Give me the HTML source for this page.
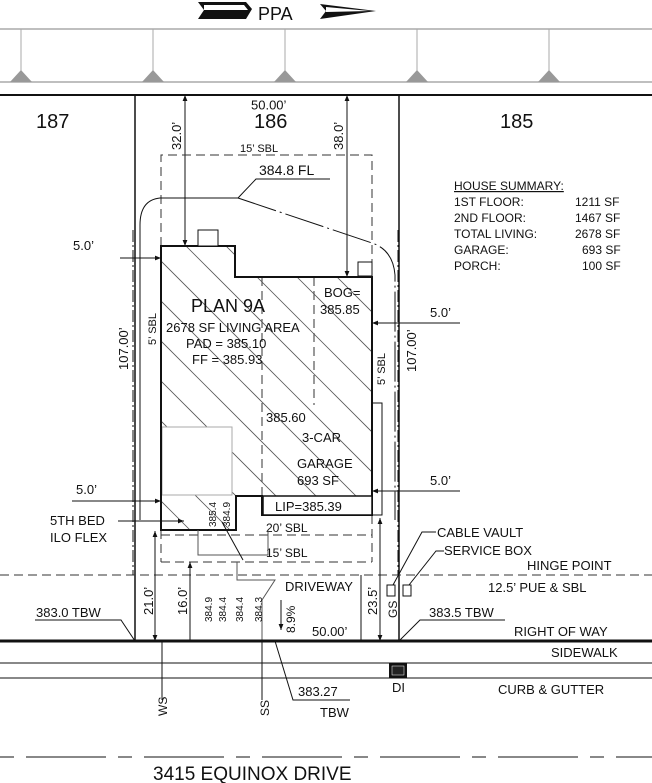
<!DOCTYPE html>
<html><head><meta charset="utf-8"><style>
html,body{margin:0;padding:0;background:#fff;width:652px;height:783px;overflow:hidden}
svg{display:block}
text{font-family:"Liberation Sans",sans-serif;fill:#111}
</style></head><body>
<svg width="652" height="783" viewBox="0 0 652 783" xmlns="http://www.w3.org/2000/svg">
<defs>
<clipPath id="hc"><polygon points="161,246 235,246 235,277 372,277 372,515 262,515 262,496 236,496 236,530 161,530"/></clipPath>
<marker id="ar" viewBox="0 0 10 10" refX="10" refY="5" markerWidth="8" markerHeight="6" orient="auto-start-reverse" markerUnits="userSpaceOnUse"><path d="M0,1 L10,5 L0,9 z" fill="#111"/></marker>
</defs>
<!-- north arrow -->
<polygon points="198,2 246,2 252,9 246,19 198,19 204,10" fill="#111"/>
<polygon points="204,5 244,5 248,10 204,10" fill="#fff"/>
<text x="258" y="20" font-size="18" font-weight="normal">PPA</text>
<polygon points="320,4 376,11 320,19 326,11" fill="#111"/>
<polygon points="326,7 370,11 326,12" fill="#fff"/>
<!-- top grey lines -->
<line x1="0" y1="29" x2="652" y2="29" stroke="#aaa" stroke-width="1.5"/>
<line x1="0" y1="82" x2="652" y2="82" stroke="#aaa" stroke-width="1.5"/>
<g stroke="#aaa"><line x1="21" y1="29" x2="21" y2="72"/><line x1="153" y1="29" x2="153" y2="72"/><line x1="285" y1="29" x2="285" y2="72"/><line x1="417" y1="29" x2="417" y2="72"/><line x1="549" y1="29" x2="549" y2="72"/></g>
<g fill="#999"><polygon points="10,82 21,70 32,82"/><polygon points="142,82 153,70 164,82"/><polygon points="274,82 285,70 296,82"/><polygon points="406,82 417,70 428,82"/><polygon points="538,82 549,70 560,82"/></g>
<line x1="0" y1="95" x2="652" y2="95" stroke="#111" stroke-width="2"/>
<!-- lot lines -->
<line x1="135" y1="95" x2="135" y2="641" stroke="#111" stroke-width="1.5"/>
<line x1="399" y1="95" x2="399" y2="641" stroke="#111" stroke-width="1.5"/>
<text x="251" y="100" font-size="13" style="dominant-baseline:hanging">50.00’</text>
<text x="36" y="128" font-size="20">187</text>
<text x="254" y="128" font-size="20">186</text>
<text x="500" y="128" font-size="20">185</text>
<!-- 32.0 / 38.0 dims -->
<line x1="185" y1="246" x2="185" y2="95" stroke="#111" marker-start="url(#ar)" marker-end="url(#ar)"/>
<line x1="347" y1="277" x2="347" y2="95" stroke="#111" marker-start="url(#ar)" marker-end="url(#ar)"/>
<text transform="translate(181,150) rotate(-90)" font-size="13">32.0’</text>
<text transform="translate(343,150) rotate(-90)" font-size="13">38.0’</text>
<!-- SBL dashed -->
<g stroke="#333" stroke-dasharray="9,5" fill="none">
<polyline points="161,246 161,155 372,155 372,277"/>
<line x1="161" y1="530" x2="161" y2="562"/>
<line x1="372" y1="515" x2="372" y2="562"/>
<line x1="161" y1="535" x2="372" y2="535"/>
<line x1="161" y1="562" x2="372" y2="562"/>
<line x1="0" y1="575" x2="652" y2="575"/>
<line x1="262" y1="277" x2="262" y2="515" stroke-width="1"/>
<line x1="314" y1="277" x2="314" y2="405"/>
</g>
<text x="240" y="152" font-size="11">15’ SBL</text>
<!-- house hatch -->
<g clip-path="url(#hc)" stroke="#555" stroke-width="0.8">
<line x1="100" y1="200" x2="500" y2="600"/><line x1="140" y1="200" x2="540" y2="600"/><line x1="180" y1="200" x2="580" y2="600"/><line x1="220" y1="200" x2="620" y2="600"/><line x1="260" y1="200" x2="660" y2="600"/><line x1="300" y1="200" x2="700" y2="600"/><line x1="60" y1="200" x2="460" y2="600"/><line x1="20" y1="200" x2="420" y2="600"/><line x1="-20" y1="200" x2="380" y2="600"/><line x1="-60" y1="200" x2="340" y2="600"/><line x1="-100" y1="200" x2="300" y2="600"/><line x1="-140" y1="200" x2="260" y2="600"/><line x1="-180" y1="200" x2="220" y2="600"/>
</g>
<rect x="162" y="427" width="70" height="68" fill="#fff" stroke="#aaa"/>
<polygon points="161,246 235,246 235,277 372,277 372,515 262,515 262,496 236,496 236,530 161,530" fill="none" stroke="#111" stroke-width="2"/>
<rect x="198" y="230" width="20" height="16" fill="#fff" stroke="#111"/>
<rect x="358" y="262" width="14" height="14" fill="#fff" stroke="#111"/>
<rect x="372" y="403" width="10" height="112" fill="none" stroke="#111"/>
<rect x="263" y="496" width="109" height="19" fill="#fff" stroke="#111" stroke-width="1.5"/>
<text x="275" y="511" font-size="13">LIP=385.39</text>
<text x="191" y="312" font-size="18">PLAN 9A</text>
<text x="166" y="332" font-size="13">2678 SF LIVING AREA</text>
<text x="186" y="348" font-size="13">PAD = 385.10</text>
<text x="192" y="364" font-size="13">FF = 385.93</text>
<text x="324" y="297" font-size="13">BOG=</text>
<text x="320" y="314" font-size="13">385.85</text>
<text x="266" y="422" font-size="13">385.60</text>
<text x="302" y="442" font-size="13">3-CAR</text>
<text x="297" y="468" font-size="13">GARAGE</text>
<text x="297" y="485" font-size="13">693 SF</text>
<text transform="translate(216,527) rotate(-90)" font-size="10">385.4</text>
<text transform="translate(230,527) rotate(-90)" font-size="10">384.9</text>
<text x="266" y="532" font-size="12">20’ SBL</text>
<text x="266" y="557" font-size="12">15’ SBL</text>
<!-- 384.8 FL leader -->
<polyline points="330,179 256,179 238,198" fill="none" stroke="#111"/>
<text x="259" y="175" font-size="14">384.8 FL</text>
<path d="M238,198 L160,198 Q140,200 140,225 L140,520" fill="none" stroke="#111"/>
<path d="M238,198 L372,243 Q393,250 395,275 L395,520" fill="none" stroke="#111" stroke-dasharray="40,4,2,4"/>
<!-- side dims -->
<line x1="133" y1="258" x2="161" y2="258" stroke="#111" marker-end="url(#ar)"/>
<line x1="120" y1="258" x2="133" y2="258" stroke="#111"/>
<text x="73" y="250" font-size="13">5.0’</text>
<line x1="372" y1="323" x2="399" y2="323" stroke="#111" marker-start="url(#ar)"/>
<line x1="399" y1="323" x2="460" y2="323" stroke="#111"/>
<text x="430" y="317" font-size="13">5.0’</text>
<line x1="372" y1="491" x2="399" y2="491" stroke="#111" marker-start="url(#ar)"/>
<line x1="399" y1="491" x2="460" y2="491" stroke="#111"/>
<text x="430" y="485" font-size="13">5.0’</text>
<line x1="133" y1="501" x2="161" y2="501" stroke="#111" marker-end="url(#ar)"/>
<line x1="72" y1="501" x2="133" y2="501" stroke="#111"/>
<text x="76" y="494" font-size="13">5.0’</text>
<line x1="118" y1="521" x2="160" y2="521" stroke="#111"/>
<line x1="161" y1="521" x2="184" y2="521" stroke="#111" marker-end="url(#ar)"/>
<text x="50" y="525" font-size="13">5TH BED</text>
<text x="50" y="542" font-size="13">ILO FLEX</text>
<g stroke="#111" stroke-dasharray="12,3,2,3"><line x1="133" y1="230" x2="133" y2="575"/><line x1="398" y1="230" x2="398" y2="575"/></g>
<text transform="translate(128,370) rotate(-90)" font-size="13">107.00’</text>
<text transform="translate(416,372) rotate(-90)" font-size="13">107.00’</text>
<text transform="translate(156,345) rotate(-90)" font-size="11">5’ SBL</text>
<text transform="translate(385,385) rotate(-90)" font-size="11">5’ SBL</text>
<!-- bottom dims -->
<line x1="155" y1="531" x2="155" y2="641" stroke="#111" marker-start="url(#ar)" marker-end="url(#ar)"/>
<text transform="translate(153,615) rotate(-90)" font-size="13">21.0’</text>
<line x1="190" y1="562" x2="190" y2="641" stroke="#111" marker-start="url(#ar)"/>
<text transform="translate(187,615) rotate(-90)" font-size="13">16.0’</text>
<line x1="380" y1="518" x2="380" y2="641" stroke="#111" marker-start="url(#ar)" marker-end="url(#ar)"/>
<text transform="translate(377,615) rotate(-90)" font-size="13">23.5’</text>
<line x1="361" y1="575" x2="361" y2="641" stroke="#111"/>
<text transform="translate(397,618) rotate(-90)" font-size="12">GS</text>
<!-- driveway details -->
<polyline points="198,530 198,555 268,555 268,530" fill="none" stroke="#555"/>
<polyline points="237,562 237,580 275,580 262,600 262,641" fill="none" stroke="#555"/>
<line x1="222" y1="522" x2="243" y2="560" stroke="#111"/>
<text transform="translate(212,622) rotate(-90)" font-size="10">384.9</text>
<text transform="translate(226,622) rotate(-90)" font-size="10">384.4</text>
<text transform="translate(243,622) rotate(-90)" font-size="10">384.4</text>
<text transform="translate(262,622) rotate(-90)" font-size="10">384.3</text>
<line x1="281" y1="600" x2="281" y2="630" stroke="#111" marker-end="url(#ar)"/>
<text transform="translate(295,633) rotate(-90)" font-size="12">8.9%</text>
<text x="285" y="591" font-size="13">DRIVEWAY</text>
<text x="312" y="636" font-size="13">50.00’</text>
<!-- right labels -->
<rect x="387" y="585" width="8" height="11" fill="#fff" stroke="#111"/>
<rect x="403" y="585" width="8" height="11" fill="#fff" stroke="#111"/>
<polyline points="393,585 422,532 436,532" fill="none" stroke="#111"/>
<polyline points="409,585 436,551 444,551" fill="none" stroke="#111"/>
<text x="437" y="537" font-size="13">CABLE VAULT</text>
<text x="444" y="555" font-size="13">SERVICE BOX</text>
<text x="527" y="570" font-size="13">HINGE POINT</text>
<text x="488" y="592" font-size="13">12.5’ PUE &amp; SBL</text>
<polyline points="399,641 420,620 505,620" fill="none" stroke="#111"/>
<text x="429" y="617" font-size="13">383.5 TBW</text>
<text x="514" y="636" font-size="13">RIGHT OF WAY</text>
<text x="551" y="657" font-size="13">SIDEWALK</text>
<text x="498" y="694" font-size="13">CURB &amp; GUTTER</text>
<polyline points="135,641 121,620 35,620" fill="none" stroke="#111"/>
<text x="36" y="617" font-size="13">383.0 TBW</text>
<!-- road -->
<line x1="0" y1="641" x2="652" y2="641" stroke="#111" stroke-width="3"/>
<line x1="0" y1="663" x2="652" y2="663" stroke="#111"/>
<line x1="0" y1="678" x2="652" y2="678" stroke="#111"/>
<rect x="389" y="663" width="18" height="15" fill="#111"/>
<rect x="392" y="666" width="12" height="9" fill="#222" stroke="#fff" stroke-width="0.5"/>
<text x="392" y="692" font-size="13">DI</text>
<line x1="162" y1="641" x2="162" y2="700" stroke="#111"/>
<text transform="translate(167,716) rotate(-90)" font-size="12">WS</text>
<line x1="262" y1="641" x2="262" y2="700" stroke="#111"/>
<text transform="translate(269,716) rotate(-90)" font-size="12">SS</text>
<polyline points="275,641 293,700 350,700" fill="none" stroke="#111"/>
<text x="298" y="696" font-size="13">383.27</text>
<text x="320" y="717" font-size="13">TBW</text>
<line x1="0" y1="757" x2="652" y2="757" stroke="#111" stroke-dasharray="14,12,80,12"/>
<text x="153" y="780" font-size="19">3415 EQUINOX DRIVE</text>
<!-- summary -->
<text x="454" y="190" font-size="12" text-decoration="underline">HOUSE SUMMARY:</text>
<text x="454" y="206" font-size="12">1ST FLOOR:</text><text x="575" y="206" font-size="12">1211 SF</text>
<text x="454" y="222" font-size="12">2ND FLOOR:</text><text x="575" y="222" font-size="12">1467 SF</text>
<text x="454" y="238" font-size="12">TOTAL LIVING:</text><text x="575" y="238" font-size="12">2678 SF</text>
<text x="454" y="254" font-size="12">GARAGE:</text><text x="582" y="254" font-size="12">693 SF</text>
<text x="454" y="270" font-size="12">PORCH:</text><text x="582" y="270" font-size="12">100 SF</text>
</svg>
</body></html>
